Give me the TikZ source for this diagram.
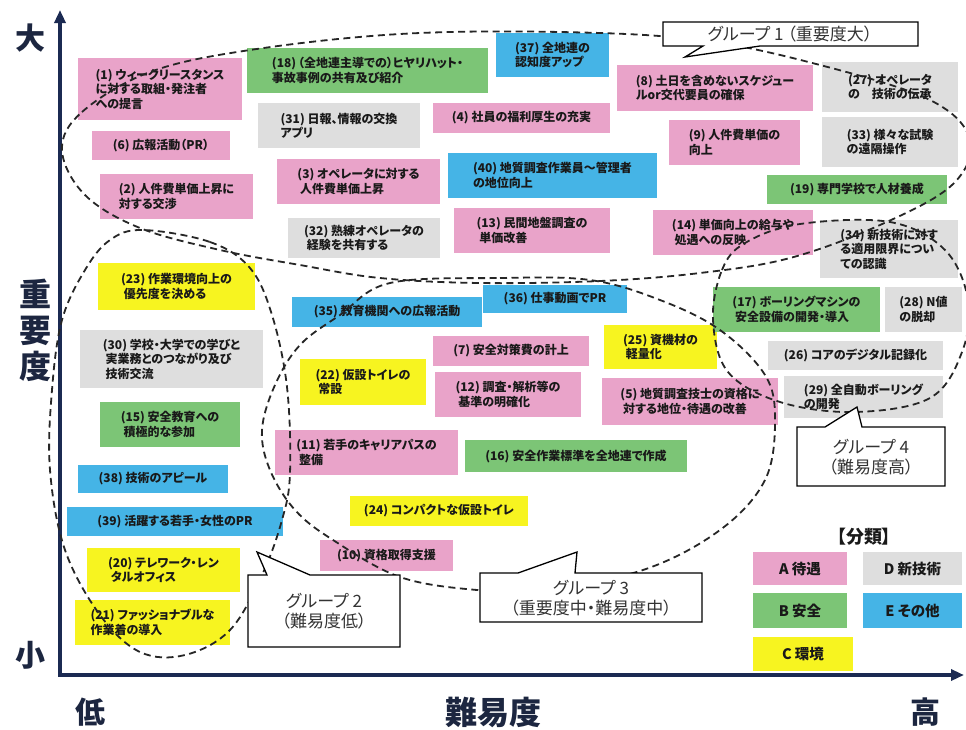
\documentclass[tikz,border=0pt]{standalone}
\usepackage{fontspec}
\setmainfont{Noto Sans CJK JP}[RawFeature=+palt]
\usetikzlibrary{arrows.meta}
\definecolor{pinkb}{HTML}{E9A3C9}
\definecolor{greenb}{HTML}{7CC576}
\definecolor{blueb}{HTML}{45B4E6}
\definecolor{yellowb}{HTML}{F7F420}
\definecolor{grayb}{HTML}{DEDEDE}
\definecolor{navy}{HTML}{1B2A52}
\definecolor{axtext}{HTML}{1C2640}
\tikzset{
  boxst/.style={rectangle, inner sep=1pt, align=left, text=black!90,
    font=\bfseries\fontsize{12}{14.5}\selectfont},
  legst/.style={rectangle, inner sep=1pt, align=center, text=black!90,
    font=\bfseries\fontsize{14.5}{16}\selectfont},
  grpline/.style={line width=1.8pt, dash pattern=on 7pt off 4.5pt, black!85},
  callout/.style={draw=black, line width=1.3pt, fill=white, line join=miter},
  calltext/.style={align=center, text=black!80, font=\fontsize{17}{20}\selectfont},
  axlabel/.style={text=axtext, font=\bfseries\fontsize{30}{36}\selectfont, inner sep=0pt},
  axis/.style={navy, line width=3.2pt, -{Triangle[length=13pt,width=11pt]}}
}
\newcommand\bx[7]{\node[boxst, fill=#6, minimum width={(#4-#2)*1pt}, minimum height={(#5-#3)*1pt}] (#1) at ({(#2+#4)/2},{(#3+#5)/2}) {#7};}
\newcommand\legbx[7]{\node[legst, fill=#6, minimum width={(#4-#2)*1pt}, minimum height={(#5-#3)*1pt}] (#1) at ({(#2+#4)/2},{(#3+#5)/2}) {#7};}
\begin{document}
\begin{tikzpicture}[x=1pt,y=-1pt]
\fill[white] (0,0) rectangle (966,729);
\useasboundingbox (0,0) rectangle (966,729);

% axes
\coordinate (origin) at (60,675);
\coordinate (ytop) at (60,10);
\coordinate (xend) at (964,675);
\draw[axis] (60,676.6) -- (ytop);
\draw[axis] (58.4,675) -- (xend);
\node[axlabel] (lbig) at (30,38) {大};
\node[axlabel] (lsmall) at (30,655) {小};
\node[axlabel, align=center, font=\bfseries\fontsize{32}{36}\selectfont] (limp) at (35,330) {重\\要\\度};
\node[axlabel] (llow) at (90,712) {低};
\node[axlabel, font=\bfseries\fontsize{32}{36}\selectfont] (ldiff) at (493,712) {難易度};
\node[axlabel] (lhigh) at (925,712) {高};

% boxes
\bx{b1}{78}{58}{242}{120}{pinkb}{(1) ウィークリースタンス\\ に対する取組・発注者\\ への提言}
\bx{b18}{247}{48}{488}{93}{greenb}{(18)\,（全地連主導での）ヒヤリハット・\\事故事例の共有及び紹介}
\bx{b37}{496}{33}{609}{77}{blueb}{(37) 全地連の\\認知度アップ}
\bx{b8}{617}{65}{813}{111}{pinkb}{(8) 土日を含めないスケジュー\\ ルor交代要員の確保}
\bx{b27}{822}{62}{958}{112}{grayb}{(27) オペレータ\\の　技術の伝承}
\bx{b31}{258}{103}{420}{148}{grayb}{(31) 日報、情報の交換\\アプリ}
\bx{b4}{433}{103}{610}{133}{pinkb}{(4) 社員の福利厚生の充実}
\bx{b6}{92}{131}{230}{160}{pinkb}{(6) 広報活動（PR）}
\bx{b9}{669}{120}{800}{165}{pinkb}{(9) 人件費単価の\\向上}
\bx{b33}{822}{117}{958}{167}{grayb}{(33) 様々な試験\\の遠隔操作}
\bx{b2}{100}{174}{253}{219}{pinkb}{(2) 人件費単価上昇に\\ 対する交渉}
\bx{b3}{277}{159}{440}{204}{pinkb}{(3) オペレータに対する\\ \ 人件費単価上昇}
\bx{b40}{448}{153}{657}{198}{blueb}{(40) 地質調査作業員～管理者\\の地位向上}
\bx{b19}{767}{175}{947}{204}{greenb}{(19) 専門学校で人材養成}
\bx{b32}{288}{218}{440}{258}{grayb}{(32) 熟練オペレータの\\ \ 経験を共有する}
\bx{b13}{454}{208}{610}{253}{pinkb}{(13) 民間地盤調査の\\ \ 単価改善}
\bx{b14}{653}{210}{813}{255}{pinkb}{(14) 単価向上の給与や\\ \ 処遇への反映}
\bx{b34}{820}{220}{958}{278}{grayb}{(34) 新技術に対す\\る適用限界につい\\ての認識}
\bx{b23}{98}{263}{255}{310}{yellowb}{(23) 作業環境向上の\\ \ 優先度を決める}
\bx{b30}{80}{330}{263}{388}{grayb}{(30) 学校・大学での学びと\\ \ 実業務とのつながり及び\\ \ 技術交流}
\bx{b15}{100}{402}{240}{447}{greenb}{(15) 安全教育への\\ \ 積極的な参加}
\bx{b38}{78}{465}{228}{493}{blueb}{(38) 技術のアピール}
\bx{b39}{67}{507}{283}{536}{blueb}{(39) 活躍する若手・女性のPR}
\bx{b20}{87}{548}{240}{592}{yellowb}{(20) テレワーク・レン\\ \ タルオフィス}
\bx{b21}{75}{600}{230}{645}{yellowb}{(21) ファッショナブルな\\作業着の導入}
\bx{b35}{292}{297}{482}{327}{blueb}{(35) 教育機関への広報活動}
\bx{b36}{483}{285}{627}{313}{blueb}{(36) 仕事動画でPR}
\bx{b7}{433}{336}{589}{366}{pinkb}{(7) 安全対策費の計上}
\bx{b22}{300}{359}{426}{405}{yellowb}{(22) 仮設トイレの\\ \ 常設}
\bx{b12}{435}{372}{581}{417}{pinkb}{(12) 調査・解析等の\\ \ 基準の明確化}
\bx{b25}{604}{325}{717}{369}{yellowb}{(25) 資機材の\\ \ 軽量化}
\bx{b5}{602}{378}{778}{425}{pinkb}{(5) 地質調査技士の資格に\\ \ 対する地位・待遇の改善}
\bx{b11}{275}{430}{458}{475}{pinkb}{(11) 若手のキャリアパスの\\ \ 整備}
\bx{b16}{465}{440}{687}{472}{greenb}{(16) 安全作業標準を全地連で作成}
\bx{b17}{713}{287}{880}{332}{greenb}{(17) ボーリングマシンの\\ \ 安全設備の開発・導入}
\bx{b28}{885}{287}{962}{332}{grayb}{(28) N値\\の脱却}
\bx{b26}{768}{341}{943}{370}{grayb}{(26) コアのデジタル記録化}
\bx{b29}{784}{376}{943}{418}{grayb}{(29) 全自動ボーリング\\の開発}
\bx{b24}{350}{496}{528}{526}{yellowb}{(24) コンパクトな仮設トイレ}
\bx{b10}{320}{540}{453}{571}{pinkb}{(10) 資格取得支援}

% legend
\node[text=black!90, font=\bfseries\fontsize{18}{20}\selectfont] (legt) at (864,537) {【分類】};
\legbx{la}{753}{552}{847}{585}{pinkb}{A 待遇}
\legbx{ld}{863}{552}{962}{585}{grayb}{D 新技術}
\legbx{lb}{753}{593}{847}{628}{greenb}{B 安全}
\legbx{le}{863}{593}{962}{628}{blueb}{E その他}
\legbx{lc}{753}{637}{853}{671}{yellowb}{C 環境}

% group outlines
\draw[grpline] plot[smooth cycle, tension=0.6] coordinates {(62,150) (82,112) (150,72) (250,50) (400,34) (560,32) (700,40) (820,65) (930,100) (970,140) (952,185) (880,225) (790,258) (700,273) (600,281) (480,283) (380,278) (300,265) (220,250) (140,228) (85,195)};
\draw[grpline] plot[smooth cycle, tension=0.6] coordinates {(143,230) (210,242) (250,268) (272,315) (287,387) (290,473) (282,520) (262,575) (230,630) (185,655) (140,652) (100,615) (65,550) (50,470) (52,390) (62,320) (85,270) (110,240)};
\draw[grpline] plot[smooth cycle, tension=0.6] coordinates {(390,283) (500,278) (590,280) (660,300) (720,330) (765,375) (775,420) (765,480) (720,530) (643,570) (540,590) (477,590) (400,577) (333,540) (295,510) (270,470) (262,430) (275,385) (300,345) (340,315)};
\draw[grpline] plot[smooth cycle, tension=0.6] coordinates {(713,320) (722,270) (745,243) (800,224) (890,222) (945,250) (968,300) (962,352) (930,398) (855,412) (780,402) (728,372)};

% callouts
\draw[callout] (663,22) -- (918,22) -- (918,46) -- (760,46) -- (685,57) -- (703,46) -- (663,46) -- cycle;
\node[calltext] (g1) at (790,34) {グループ 1 （重要度大）};
\draw[callout] (248,575) -- (267,575) -- (257,552) -- (310,575) -- (400,575) -- (400,647) -- (248,647) -- cycle;
\node[calltext] (g2) at (324,611) {グループ 2\\（難易度低）};
\draw[callout] (480,573) -- (518,573) -- (577,552) -- (575,573) -- (702,573) -- (702,622) -- (480,622) -- cycle;
\node[calltext] (g3) at (591,598) {グループ 3\\（重要度中・難易度中）};
\draw[callout] (797,427) -- (825,427) -- (857,407) -- (862,427) -- (945,427) -- (945,486) -- (797,486) -- cycle;
\node[calltext] (g4) at (871,457) {グループ 4\\（難易度高）};
\end{tikzpicture}
\end{document}
